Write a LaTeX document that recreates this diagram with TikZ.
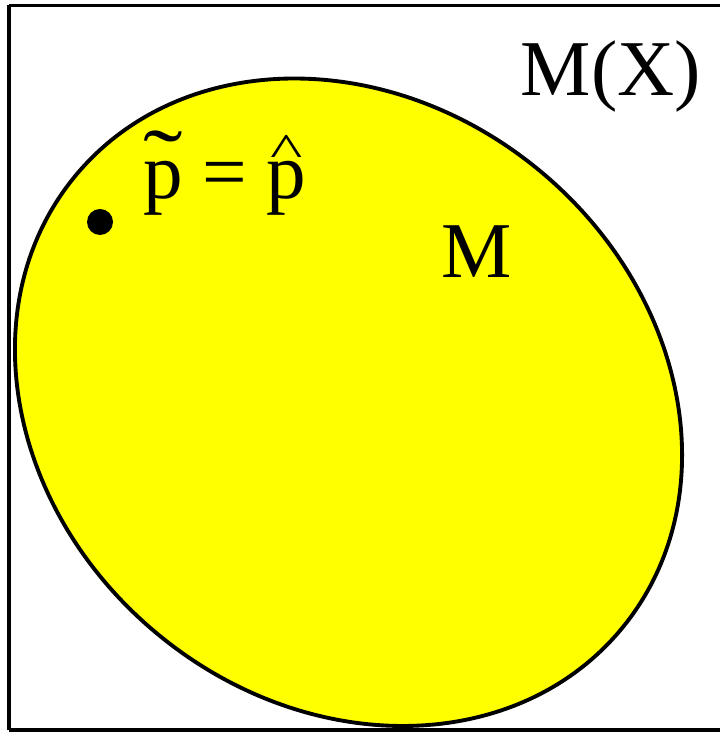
\documentclass[tikz,border=0pt]{standalone}
\usepackage{fontspec}
\setmainfont{Liberation Serif}
\usepackage{tikz}
\usetikzlibrary{positioning}
\definecolor{modelyellow}{RGB}{255,255,0}
% p with a wide accent set high above it
\newcommand{\accp}[4]{\ooalign{p\cr\hidewidth\raisebox{#4}{\scalebox{#2}[#3]{\symbol{#1}}}\hidewidth\cr}}

\begin{document}
\begin{tikzpicture}[
    x=0.02cm, y=0.02cm,
    lbl/.style={inner sep=0pt, font=\fontsize{45}{54}\selectfont},
    outline/.style={line width=2.2pt, draw=black}
]
\useasboundingbox (0,0) rectangle (719,732);
% outer space, right side runs off the page
\draw[line width=1.9pt] (9,726.5) -- (760,726.5) (9,2) -- (760,2) (9,2) -- (9,726.5);

% the model set
\draw[outline, fill=modelyellow] (348.5,329.75) ellipse[x radius=354.8, y radius=300.3, rotate=-39.8];

\node[lbl, anchor=base west] (space) at (520.5,636) {M(X)};
\node[lbl, anchor=base west] (model) at (441,454) {M};
\node[circle, fill=black, inner sep=0pt, minimum size=26*0.02cm] (pt) at (100,510) {};
\node[lbl, anchor=base west] (est) at (143,533) {\accp{"02DC}{1.5}{1.1}{0.12em} = \accp{"005E}{0.87}{0.6}{0.41em}};

\end{tikzpicture}
\end{document}
